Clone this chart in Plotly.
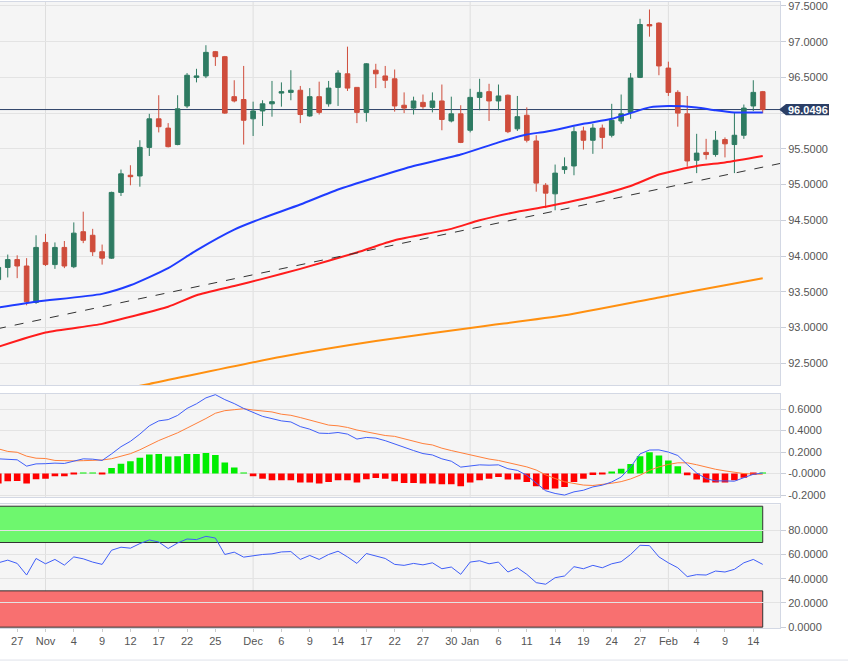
import pandas as pd
import plotly.graph_objects as go
from plotly.subplots import make_subplots

# ---------------- data ----------------
dates = [d.strftime("%Y-%m-%d") for d in pd.bdate_range("2021-10-25", "2022-02-15")]

opens = [93.67, 93.84, 93.95, 93.86, 93.35, 94.19, 93.88, 94.12, 93.85, 94.34,
         94.29, 94.06, 93.97, 94.89, 95.13, 95.12, 95.52, 95.92, 95.79, 95.56,
         96.10, 96.50, 96.52, 96.86, 96.79, 96.23, 96.19, 95.92, 96.03, 96.13,
         96.28, 96.29, 96.32, 95.96, 96.23, 96.13, 96.36, 96.55, 96.36, 96.01,
         96.60, 96.52, 96.48, 96.11, 96.07, 96.15, 96.08, 96.17, 95.89, 95.99,
         95.76, 96.22, 96.30, 96.17, 96.25, 95.78, 95.97, 95.61, 94.99, 94.87,
         95.21, 95.26, 95.75, 95.62, 95.79, 95.69, 95.89, 96.01, 96.50, 97.24,
         97.26, 96.63, 96.29, 95.99, 95.34, 95.45, 95.42, 95.63, 95.56, 95.69,
         96.10, 96.30]
highs = [93.93, 94.02, 94.01, 93.97, 94.29, 94.31, 94.19, 94.21, 94.47, 94.62,
         94.38, 94.16, 94.90, 95.21, 95.27, 95.62, 95.99, 96.25, 95.86, 96.25,
         96.56, 96.62, 96.95, 96.87, 96.80, 96.46, 96.66, 96.16, 96.18, 96.45,
         96.43, 96.60, 96.38, 96.35, 96.44, 96.45, 96.60, 96.93, 96.36, 96.70,
         96.69, 96.66, 96.61, 96.29, 96.23, 96.26, 96.29, 96.40, 96.23, 96.11,
         96.34, 96.48, 96.41, 96.40, 96.26, 96.24, 96.08, 95.69, 95.02, 95.28,
         95.38, 95.81, 95.81, 95.85, 95.84, 96.13, 96.26, 96.56, 97.32, 97.45,
         97.27, 96.72, 96.32, 96.24, 95.71, 95.64, 95.75, 95.66, 96.01, 96.12,
         96.46, 96.31]
lows = [93.64, 93.70, 93.69, 93.31, 93.33, 93.86, 93.82, 93.83, 93.83, 94.18,
        94.00, 93.88, 93.96, 94.84, 94.99, 94.97, 95.40, 95.73, 95.52, 95.55,
        96.07, 96.43, 96.49, 96.66, 95.99, 96.15, 95.56, 95.68, 95.82, 95.95,
        96.09, 96.18, 95.86, 95.95, 95.98, 96.09, 96.10, 96.31, 95.86, 95.88,
        96.35, 96.35, 96.02, 96.00, 95.98, 96.06, 96.01, 95.76, 95.87, 95.58,
        95.73, 96.04, 95.89, 96.04, 95.72, 95.75, 95.59, 94.90, 94.67, 94.64,
        95.15, 95.13, 95.49, 95.43, 95.50, 95.66, 95.85, 95.92, 96.49, 97.07,
        96.53, 96.24, 95.81, 95.25, 95.16, 95.35, 95.39, 95.38, 95.16, 95.64,
        96.03, 96.00]
closes = [93.84, 93.95, 93.86, 93.36, 94.12, 93.88, 94.12, 93.86, 94.32, 94.22,
          94.06, 93.97, 94.89, 95.15, 95.11, 95.52, 95.92, 95.81, 95.53, 96.06,
          96.53, 96.52, 96.85, 96.79, 96.00, 96.17, 95.90, 96.03, 96.13, 96.16,
          96.30, 96.32, 95.98, 96.23, 96.01, 96.35, 96.56, 96.35, 96.01, 96.69,
          96.55, 96.46, 96.10, 96.07, 96.17, 96.09, 96.17, 95.91, 95.99, 95.59,
          96.22, 96.29, 96.17, 96.24, 95.74, 95.95, 95.62, 95.02, 94.88, 95.16,
          95.25, 95.74, 95.62, 95.79, 95.66, 95.90, 95.99, 96.49, 97.24, 97.22,
          96.66, 96.29, 96.00, 95.33, 95.44, 95.42, 95.62, 95.57, 95.69, 96.07,
          96.29, 96.0496]

ma50_dates = ["2021-10-25", "2021-10-29", "2021-11-09", "2021-11-12", "2021-11-18",
              "2021-11-23", "2021-11-29", "2021-12-02", "2021-12-08", "2021-12-14",
              "2021-12-20", "2021-12-24", "2021-12-31", "2022-01-06", "2022-01-11",
              "2022-01-13", "2022-01-19", "2022-01-24", "2022-01-26", "2022-01-28",
              "2022-02-01", "2022-02-04", "2022-02-08", "2022-02-10", "2022-02-15"]
ma50_vals = [93.28, 93.36, 93.47, 93.59, 93.83, 94.08, 94.37, 94.53, 94.72, 94.93,
             95.10, 95.26, 95.42, 95.59, 95.70, 95.74, 95.85, 95.92, 96.00, 96.08,
             96.10, 96.08, 96.04, 96.01, 96.01]

ma100_dates = ["2021-10-25", "2021-11-01", "2021-11-09", "2021-11-12", "2021-11-18",
               "2021-11-23", "2021-11-29", "2021-12-02", "2021-12-08", "2021-12-16",
               "2021-12-22", "2021-12-30", "2022-01-04", "2022-01-10", "2022-01-13",
               "2022-01-19", "2022-01-26", "2022-01-31", "2022-02-04", "2022-02-09",
               "2022-02-15"]
ma100_vals = [92.73, 92.93, 93.05, 93.15, 93.29, 93.45, 93.58, 93.68, 93.82, 94.05,
              94.22, 94.38, 94.50, 94.62, 94.69, 94.80, 94.98, 95.14, 95.26, 95.31,
              95.40]

ma200_dates = ["2021-10-25", "2021-11-04", "2021-11-16", "2021-12-06", "2021-12-20",
               "2022-01-04", "2022-01-17", "2022-01-31", "2022-02-09", "2022-02-15"]
ma200_vals = [91.80, 92.00, 92.21, 92.59, 92.81, 93.01, 93.17, 93.42, 93.59, 93.69]

trend_dates = ["2022-01-14", "2022-02-10"]
trend_vals = [94.63, 95.16]

macd = [0.137, 0.135, 0.128, 0.069, 0.090, 0.092, 0.097, 0.094, 0.115, 0.137,
        0.134, 0.122, 0.183, 0.250, 0.300, 0.367, 0.444, 0.490, 0.502, 0.541,
        0.606, 0.649, 0.704, 0.734, 0.688, 0.651, 0.606, 0.566, 0.532, 0.511,
        0.490, 0.480, 0.437, 0.413, 0.376, 0.373, 0.382, 0.367, 0.321, 0.336,
        0.330, 0.306, 0.275, 0.238, 0.214, 0.186, 0.173, 0.137, 0.115, 0.060,
        0.069, 0.081, 0.078, 0.081, 0.045, 0.030, -0.016, -0.084, -0.160, -0.185,
        -0.200, -0.170, -0.155, -0.124, -0.108, -0.078, -0.032, 0.060, 0.183, 0.219,
        0.220, 0.200, 0.168, 0.085, 0.005, -0.047, -0.068, -0.068, -0.071, -0.038,
        -0.007, 0.005]
signal = [0.230, 0.206, 0.198, 0.162, 0.143, 0.140, 0.122, 0.119, 0.118, 0.120,
          0.122, 0.126, 0.138, 0.160, 0.185, 0.221, 0.267, 0.307, 0.343, 0.379,
          0.423, 0.466, 0.512, 0.561, 0.585, 0.594, 0.603, 0.591, 0.580, 0.573,
          0.552, 0.542, 0.521, 0.497, 0.469, 0.451, 0.444, 0.429, 0.405, 0.389,
          0.371, 0.354, 0.346, 0.325, 0.301, 0.279, 0.266, 0.236, 0.214, 0.195,
          0.170, 0.150, 0.135, 0.122, 0.101, 0.086, 0.062, 0.033, -0.012, -0.046,
          -0.076, -0.092, -0.107, -0.111, -0.103, -0.090, -0.075, -0.050, -0.015, 0.030,
          0.062, 0.085, 0.100, 0.100, 0.082, 0.060, 0.040, 0.025, 0.010, 0.000,
          -0.005, -0.006]
hist = [-0.093, -0.071, -0.070, -0.093, -0.053, -0.048, -0.025, -0.025, -0.003, 0.008,
        0.004, -0.004, 0.051, 0.091, 0.115, 0.146, 0.177, 0.183, 0.159, 0.162,
        0.183, 0.183, 0.192, 0.173, 0.103, 0.057, 0.003, -0.025, -0.048, -0.062,
        -0.062, -0.062, -0.084, -0.084, -0.093, -0.078, -0.062, -0.062, -0.084, -0.053,
        -0.041, -0.048, -0.071, -0.087, -0.087, -0.093, -0.093, -0.099, -0.099, -0.117,
        -0.084, -0.062, -0.048, -0.032, -0.056, -0.056, -0.078, -0.117, -0.148, -0.139,
        -0.124, -0.078, -0.048, -0.013, -0.005, 0.012, 0.045, 0.088, 0.161, 0.198,
        0.168, 0.122, 0.067, -0.016, -0.056, -0.084, -0.084, -0.084, -0.062, -0.038,
        -0.013, 0.009]
rsi = [53.2, 55.4, 52.7, 43.1, 56.8, 52.4, 56.0, 51.3, 58.1, 56.5,
       53.8, 51.9, 63.6, 66.1, 65.3, 69.1, 72.1, 70.4, 65.0, 69.6,
       72.9, 72.4, 75.1, 73.7, 60.1, 62.0, 57.9, 59.3, 60.1, 60.6,
       62.2, 62.5, 56.0, 59.3, 56.0, 60.1, 62.8, 58.1, 52.7, 60.9,
       58.7, 56.8, 51.9, 51.1, 52.7, 51.5, 53.2, 48.3, 49.7, 43.7,
       53.8, 54.9, 52.4, 53.8, 45.6, 49.1, 43.7, 36.8, 35.5, 40.9,
       42.3, 50.0, 48.3, 51.1, 49.1, 52.4, 54.1, 60.1, 67.7, 67.4,
       58.1, 53.2, 49.1, 41.8, 43.4, 43.1, 46.4, 45.6, 47.8, 53.2,
       56.0, 51.9]

tick_dates = ["2021-10-27", "2021-11-01", "2021-11-04", "2021-11-09", "2021-11-12",
              "2021-11-17", "2021-11-22", "2021-11-25", "2021-12-01", "2021-12-06",
              "2021-12-09", "2021-12-14", "2021-12-17", "2021-12-22", "2021-12-27",
              "2021-12-30", "2022-01-03", "2022-01-06", "2022-01-11", "2022-01-14",
              "2022-01-19", "2022-01-24", "2022-01-27", "2022-02-01", "2022-02-04",
              "2022-02-09", "2022-02-14"]
tick_labels = ["27", "Nov", "4", "9", "12", "17", "22", "25", "Dec", "6", "9", "14",
               "17", "22", "27", "30", "Jan", "6", "11", "14", "19", "24", "27",
               "Feb", "4", "9", "14"]

price_ticks = [92.5, 93.0, 93.5, 94.0, 94.5, 95.0, 95.5, 96.0, 96.5, 97.0, 97.5]
macd_ticks = [-0.2, 0.0, 0.2, 0.4, 0.6]
macd_tick_text = ["-0.2000", "-0.0000", "0.2000", "0.4000", "0.6000"]
rsi_ticks = [0, 20, 40, 60, 80]

# ---------------- helpers ----------------
pos = {d: i for i, d in enumerate(dates)}
xs = [pos[d] for d in dates]
last = closes[-1]

W, H = 848, 672
XR = [0.18, 82.83]

GREEN_C = "#2e7b62"
RED_C = "#cf4d3c"
FONT = "Liberation Sans, Arial, sans-serif"

fig = make_subplots(rows=3, cols=1, shared_xaxes=True)

fig.add_trace(go.Candlestick(
    x=xs, open=opens, high=highs, low=lows, close=closes,
    increasing=dict(line=dict(color=GREEN_C, width=1), fillcolor=GREEN_C),
    decreasing=dict(line=dict(color=RED_C, width=1), fillcolor=RED_C),
    whiskerwidth=0, showlegend=False, hoverinfo="skip"), row=1, col=1)

fig.add_trace(go.Scatter(x=[pos[d] for d in ma200_dates], y=ma200_vals, mode="lines",
                         line=dict(color="#ff9010", width=2, shape="spline", smoothing=0.6),
                         showlegend=False, hoverinfo="skip"), row=1, col=1)
fig.add_trace(go.Scatter(x=[pos[d] for d in ma100_dates], y=ma100_vals, mode="lines",
                         line=dict(color="#ff1c1c", width=2, shape="spline", smoothing=0.6),
                         showlegend=False, hoverinfo="skip"), row=1, col=1)
fig.add_trace(go.Scatter(x=[pos[d] for d in ma50_dates], y=ma50_vals, mode="lines",
                         line=dict(color="#1f3cff", width=2, shape="spline", smoothing=0.6),
                         showlegend=False, hoverinfo="skip"), row=1, col=1)

# trend line through two lows, extended over the visible range
tx0, tx1 = pos[trend_dates[0]], pos[trend_dates[1]]
slope = (trend_vals[1] - trend_vals[0]) / (tx1 - tx0)
ext_x = [-2, len(dates) + 3]
ext_y = [trend_vals[0] + slope * (x - tx0) for x in ext_x]
fig.add_trace(go.Scatter(x=ext_x, y=ext_y, mode="lines",
                         line=dict(color="#333333", width=1, dash="dash"),
                         showlegend=False, hoverinfo="skip"), row=1, col=1)

# MACD
fig.add_trace(go.Bar(x=xs, y=hist, width=0.7,
                     marker=dict(color=["#00ee00" if v >= 0 else "#ff0000" for v in hist],
                                 line=dict(width=0)),
                     showlegend=False, hoverinfo="skip"), row=2, col=1)
fig.add_trace(go.Scatter(x=xs, y=signal, mode="lines", line=dict(color="#ff7f3a", width=1),
                         showlegend=False, hoverinfo="skip"), row=2, col=1)
fig.add_trace(go.Scatter(x=xs, y=macd, mode="lines", line=dict(color="#3f5ef8", width=1),
                         showlegend=False, hoverinfo="skip"), row=2, col=1)

# RSI
fig.add_trace(go.Scatter(x=xs, y=rsi, mode="lines", line=dict(color="#3f5ef8", width=1),
                         showlegend=False, hoverinfo="skip"), row=3, col=1)

# ---------------- layout ----------------
xdom = [0, 780 / W]
doms = {
    1: [1 - 387 / H, 1.0],
    2: [1 - 500 / H, 1 - 395.7 / H],
    3: [1 - 632.7 / H, 1 - 507.7 / H],
}
tickfont = dict(family=FONT, size=11, color="#555555")
axline = "#d3d8e4"
grid = "#e3e3e3"

common_x = dict(range=XR, domain=xdom, showgrid=False, zeroline=False,
                showline=True, mirror=True, linecolor=axline, linewidth=1,
                tickvals=[pos[d] for d in tick_dates], ticktext=tick_labels,
                tickfont=tickfont, ticks="", rangeslider=dict(visible=False))
fig.update_layout(
    xaxis=dict(common_x, showticklabels=False),
    xaxis2=dict(common_x, showticklabels=False),
    xaxis3=dict(common_x, showticklabels=True, ticks="outside", ticklen=3, tickcolor="#cccccc"),
)

ycommon = dict(side="right", showgrid=True, gridcolor=grid, gridwidth=1, zeroline=False,
               showline=True, linecolor=axline, ticks="outside", ticklen=5,
               tickcolor="#c9ced9", tickfont=tickfont, ticklabeloverflow="allow")
fig.update_layout(
    yaxis=dict(ycommon, domain=doms[1], range=[92.195, 97.555], tickvals=price_ticks,
               ticktext=["" if abs(v - 96.0) < 1e-9 else f"{v:.4f}" for v in price_ticks]),
    yaxis2=dict(ycommon, domain=doms[2], range=[-0.216, 0.744], tickvals=macd_ticks,
                ticktext=macd_tick_text),
    yaxis3=dict(ycommon, domain=doms[3], range=[-0.8, 101.5], tickvals=rsi_ticks,
                ticktext=[f"{v:.4f}" for v in rsi_ticks]),
)

shapes = []
# RSI zones
shapes.append(dict(type="rect", xref="x3", yref="y3", x0=-2, x1=xs[-1], y0=70, y1=100,
                   fillcolor="#6ef76e", line=dict(color="#333333", width=1), layer="below"))
shapes.append(dict(type="rect", xref="x3", yref="y3", x0=-2, x1=xs[-1], y0=0, y1=30,
                   fillcolor="#f87070", line=dict(color="#333333", width=1), layer="below"))
# month gridlines
month_starts = [i for i in range(1, len(dates)) if dates[i][5:7] != dates[i - 1][5:7]]
for r, (xr, yr) in enumerate([("x", "y"), ("x2", "y2"), ("x3", "y3")]):
    for m in month_starts:
        shapes.append(dict(type="line", xref=xr, yref=yr + " domain", x0=m, x1=m, y0=0, y1=1,
                           line=dict(color="#dedede", width=1), layer="below"))
# last price line
shapes.append(dict(type="line", xref="x domain", yref="y", x0=0, x1=1, y0=last, y1=last,
                   line=dict(color="#2b3f66", width=1), layer="below"))
# price tag
xl, xb, xr_ = 779 / W, 786 / W, 829 / W
d = 0.078
shapes.append(dict(type="path", xref="paper", yref="y",
                   path=f"M {xl},{last} L {xb},{last + d} L {xr_},{last + d} L {xr_},{last - d} L {xb},{last - d} Z",
                   fillcolor="#2b3f66", line=dict(width=0), layer="above"))
# bottom rule
shapes.append(dict(type="line", xref="paper", yref="paper", x0=0, x1=1, y0=1 - 665 / H, y1=1 - 665 / H,
                   line=dict(color="#dfe2ea", width=1)))

annotations = [dict(xref="paper", yref="y", x=807.5 / W, y=last, text=f"<b>{last:.4f}</b>",
                    showarrow=False, xanchor="center", yanchor="middle",
                    font=dict(family=FONT, size=11, color="white"))]

fig.update_layout(
    width=W, height=H, margin=dict(l=0, r=0, t=0, b=0),
    paper_bgcolor="white", plot_bgcolor="#f5f5f5",
    shapes=shapes, annotations=annotations, showlegend=False,
    bargap=0.3, hovermode=False,
)

fig.write_html("out.html")
